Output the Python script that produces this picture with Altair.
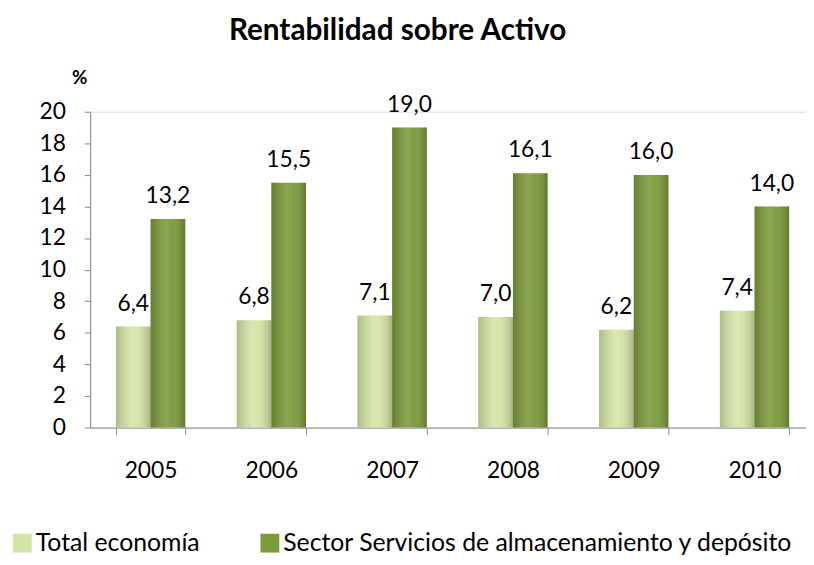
import altair as alt
import pandas as pd

years = ["2005", "2006", "2007", "2008", "2009", "2010"]
total_economia = [6.4, 6.8, 7.1, 7.0, 6.2, 7.4]
sector_almacenamiento = [13.2, 15.5, 19.0, 16.1, 16.0, 14.0]
series_names = ["Total economía", "Sector Servicios de almacenamiento y depósito"]
series_colors = ["#d3e4a6", "#7b9a3a"]

rows = []
for i, y in enumerate(years):
    for name, vals in zip(series_names, [total_economia, sector_almacenamiento]):
        v = vals[i]
        rows.append({"year": y, "serie": name, "value": v,
                     "label": f"{v:.1f}".replace(".", ",")})
df = pd.DataFrame(rows)

FONT = "Lato"

x_enc = alt.X("year:N", sort=years, title=None,
              scale=alt.Scale(paddingInner=0.426, paddingOuter=0.213, range=[0, 732]),
              axis=alt.Axis(labelAngle=0, labelFontSize=23, labelFont=FONT, labelColor="#000",
                            tickBand="extent", tickSize=7, tickColor="#888", domainColor="#888",
                            labelPadding=25))
xo_enc = alt.XOffset("serie:N", sort=series_names)
y_enc = alt.Y("value:Q", scale=alt.Scale(domain=[0, 20]),
              axis=alt.Axis(values=list(range(0, 21, 2)), grid=False, tickSize=6,
                            tickColor="#888", domainColor="#888", labelFontSize=23,
                            labelFont=FONT, labelColor="#000", labelPadding=19,
                            title="%", titleAngle=0, titleX=-11, titleY=-35,
                            titleAlign="center", titleBaseline="middle",
                            titleFontSize=19, titleFont=FONT, titleFontWeight="bold"))

base = alt.Chart(df).encode(x=x_enc, xOffset=xo_enc, y=y_enc)

bars = base.mark_bar().encode(
    color=alt.Color("serie:N", sort=series_names,
                    scale=alt.Scale(domain=series_names, range=series_colors),
                    legend=alt.Legend(title=None, orient="none", direction="horizontal",
                                      legendX=-81, legendY=423, symbolType="square",
                                      symbolSize=361, symbolStrokeWidth=0,
                                      labelFontSize=25, labelFont=FONT, labelColor="#000",
                                      labelOffset=1, columnPadding=58, padding=0,
                                      labelLimit=800))
)

shade = base.mark_bar(
    color=alt.Gradient(
        gradient="linear", x1=0, x2=1, y1=0, y2=0,
        stops=[alt.GradientStop(color="rgba(0,0,0,0.18)", offset=0),
               alt.GradientStop(color="rgba(255,255,255,0.12)", offset=0.45),
               alt.GradientStop(color="rgba(255,255,255,0.05)", offset=0.6),
               alt.GradientStop(color="rgba(0,0,0,0.22)", offset=1)])
)

labels = base.mark_text(dy=-16, baseline="alphabetic", fontSize=23, font=FONT,
                        color="#000").encode(text="label:N")

chart = alt.layer(bars, shade, labels).properties(
    width=723, height=319,
    title=alt.Title("Rentabilidad sobre Activo", fontSize=30, font=FONT,
                    fontWeight="bold", color="#000", anchor="middle", frame="group",
                    dx=-51, offset=22),
    autosize=alt.AutoSizeParams(type="none"),
    padding={"left": 83, "top": 102, "right": 0, "bottom": 130},
).configure_view(stroke=None).configure(font=FONT)

chart.save("out.html", embed_options={"renderer": "svg", "actions": False})
